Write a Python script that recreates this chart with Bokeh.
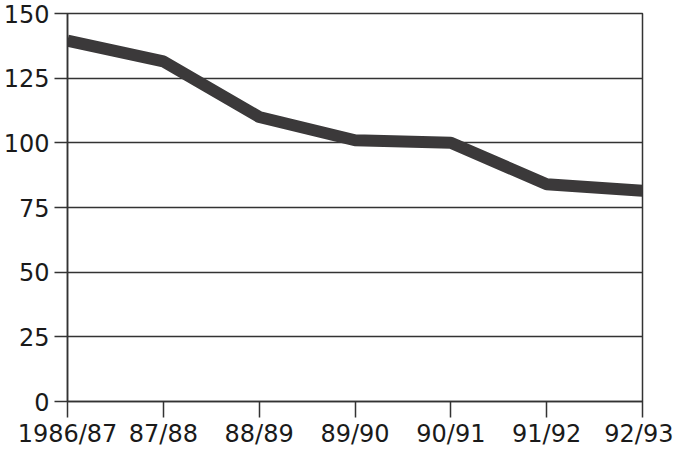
from bokeh.plotting import figure
from bokeh.models import Range1d, FixedTicker
from bokeh.embed import file_html
from bokeh.resources import INLINE

# Data
years = ["1986/87", "87/88", "88/89", "89/90", "90/91", "91/92", "92/93"]
values = [139.5, 131.5, 110, 101, 100, 84, 81.5]
y_ticks = [0, 25, 50, 75, 100, 125, 150]

x = list(range(len(years)))

p = figure(width=673, height=450, output_backend="svg", toolbar_location=None,
           x_range=Range1d(0, len(years) - 1), y_range=Range1d(0, 150),
           min_border_left=64, min_border_right=31, min_border_top=13, min_border_bottom=44)

p.background_fill_color = "white"
p.border_fill_color = "white"
p.outline_line_color = "#333333"
p.outline_line_width = 1.5

p.line(x, values, line_color="#3b393a", line_width=12)

ink = "#333333"
font = "DejaVu Sans"

p.xaxis.ticker = FixedTicker(ticks=x)
p.xaxis.major_label_overrides = {i: lab for i, lab in enumerate(years)}
p.yaxis.ticker = FixedTicker(ticks=y_ticks)

for ax in (p.xaxis[0], p.yaxis[0]):
    ax.axis_line_color = ink
    ax.axis_line_width = 1.5
    ax.major_tick_line_color = ink
    ax.major_tick_line_width = 1.5
    ax.major_tick_in = 0
    ax.minor_tick_line_color = None
    ax.major_label_text_font = font
    ax.major_label_text_font_size = "24px"
    ax.major_label_text_color = "#1a1a1a"

p.xaxis.major_tick_out = 16
p.xaxis.major_label_standoff = 2
p.yaxis.major_tick_out = 13
p.yaxis.major_label_standoff = 5

p.xgrid.grid_line_color = None
p.ygrid.grid_line_color = ink
p.ygrid.grid_line_width = 1.5

open("out.html", "w").write(file_html(p, INLINE))
